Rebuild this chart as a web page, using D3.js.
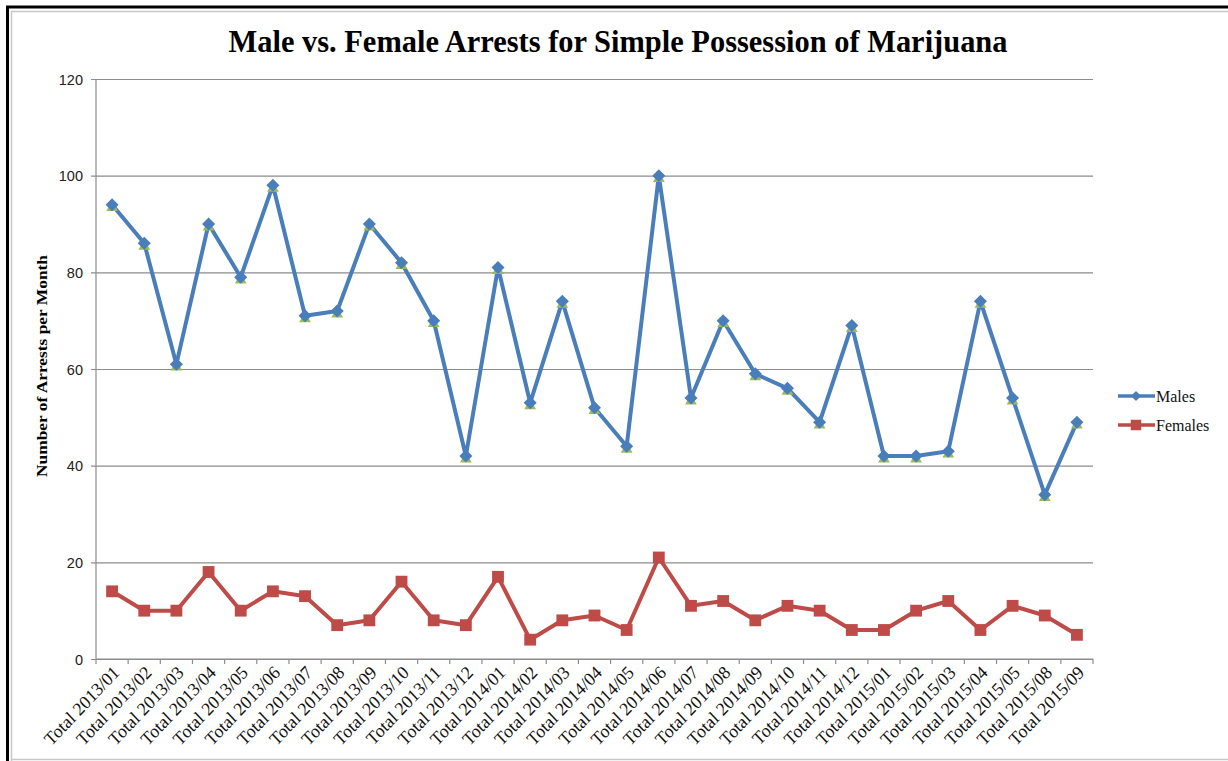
<!DOCTYPE html>
<html><head><meta charset="utf-8">
<script src="https://cdn.jsdelivr.net/npm/d3@7"></script>
<style>
html,body{margin:0;padding:0;background:#fff;}
svg{display:block;}
</style></head>
<body>
<svg id="chart" width="1228" height="761"></svg>
<script>
const categories = ["Total 2013/01","Total 2013/02","Total 2013/03","Total 2013/04","Total 2013/05","Total 2013/06","Total 2013/07","Total 2013/08","Total 2013/09","Total 2013/10","Total 2013/11","Total 2013/12","Total 2014/01","Total 2014/02","Total 2014/03","Total 2014/04","Total 2014/05","Total 2014/06","Total 2014/07","Total 2014/08","Total 2014/09","Total 2014/10","Total 2014/11","Total 2014/12","Total 2015/01","Total 2015/02","Total 2015/03","Total 2015/04","Total 2015/05","Total 2015/08","Total 2015/09"];
const males = [94,86,61,90,79,98,71,72,90,82,70,42,81,53,74,52,44,100,54,70,59,56,49,69,42,42,43,74,54,34,49];
const females = [14,10,10,18,10,14,13,7,8,16,8,7,17,4,8,9,6,21,11,12,8,11,10,6,6,10,12,6,11,9,5];
const yTicks = [0,20,40,60,80,100,120];
const seriesNames = ["Males","Females"];
const titleText = "Male vs. Female Arrests for Simple Possession of Marijuana";
const yTitle = "Number of Arrests per Month";

const svg = d3.select("#chart");
const L = 96, R = 1093, T = 79, B = 659;
const x = d3.scaleBand().domain(categories).range([L, R]).paddingInner(0).paddingOuter(0);
const y = d3.scaleLinear().domain([0, 120]).range([B, T]);
const cx = d => x(d) + x.bandwidth() / 2;

const blue = "#4A7EBB", red = "#BE4B48", green = "#9BBB59", grid = "#8C8C8C";

// frame
svg.append("path").attr("d", "M7.5,761 L7.5,7 L1228,7").attr("fill", "none").attr("stroke", "#000").attr("stroke-width", 3);
svg.append("path").attr("d", "M11.5,761 L11.5,11.5 L1228,11.5").attr("fill","none").attr("stroke","#c8c8c8").attr("stroke-width",1.5);
svg.append("line").attr("x1",11).attr("x2",1228).attr("y1",759.5).attr("y2",759.5).attr("stroke","#c8c8c8").attr("stroke-width",1.5);

// title
svg.append("text").attr("x", 618).attr("y", 52).attr("text-anchor", "middle")
  .attr("font-family", "'Liberation Serif','Times New Roman',serif").attr("font-weight", "bold")
  .attr("font-size", 31).attr("textLength", 779).attr("lengthAdjust", "spacingAndGlyphs")
  .attr("fill", "#000").text(titleText);

// y axis with gridlines
const yAxis = d3.axisLeft(y).tickValues(yTicks).tickSize(-(R - L)).tickPadding(12).tickFormat(d3.format("d"));
const gy = svg.append("g").attr("transform", `translate(${L},0)`).call(yAxis);
gy.select(".domain").remove();
gy.selectAll(".tick line").attr("stroke", grid).attr("stroke-width", 1.2).attr("x1", -5);
gy.selectAll(".tick text").attr("font-family", "'Liberation Sans',Arial,sans-serif").attr("font-size", 14.5).attr("fill", "#222").attr("dy","0.35em").attr("x",-13);
svg.append("line").attr("x1", L).attr("x2", L).attr("y1", T).attr("y2", B).attr("stroke", grid).attr("stroke-width", 1.2);

// x axis
const gx = svg.append("g").attr("transform", `translate(0,${B})`);
gx.append("line").attr("x1", L).attr("x2", R).attr("y1", 0).attr("y2", 0).attr("stroke", grid).attr("stroke-width", 1.2);
const edges = categories.map(c => x(c)).concat([R]);
gx.selectAll("line.tk").data(edges).enter().append("line").attr("class","tk")
  .attr("x1", d => d).attr("x2", d => d).attr("y1", 0).attr("y2", 5).attr("stroke", grid).attr("stroke-width", 1.2);
gx.selectAll("text.lbl").data(categories).enter().append("text").attr("class","lbl")
  .attr("transform", d => `translate(${cx(d) + 4},10) scale(0.95,1) rotate(-45)`)
  .attr("text-anchor", "end").attr("font-family", "'Liberation Serif','Times New Roman',serif")
  .attr("font-size", 18.5).attr("fill", "#111").attr("dy","0.35em").text(d => d);

// y title
svg.append("text").attr("transform", "translate(47,366) rotate(-90)").attr("text-anchor", "middle")
  .attr("font-family", "'Liberation Serif','Times New Roman',serif").attr("font-weight", "bold")
  .attr("font-size", 14).attr("textLength", 222).attr("lengthAdjust","spacingAndGlyphs").text(yTitle);

// lines
const lineGen = vals => d3.line().x((d, i) => cx(categories[i])).y(d => y(d))(vals);
svg.append("path").attr("d", lineGen(males)).attr("fill", "none").attr("stroke", blue).attr("stroke-width", 4).attr("stroke-linejoin", "round");
svg.append("path").attr("d", lineGen(females)).attr("fill", "none").attr("stroke", red).attr("stroke-width", 4).attr("stroke-linejoin", "round");

// markers
const tri = d3.symbol().type(d3.symbolTriangle).size(60);
const dia = d3.symbol().type(d3.symbolSquare).size(85);
svg.append("g").selectAll("path").data(males).enter().append("path")
  .attr("d", tri()).attr("fill", green).attr("transform", (d, i) => `translate(${cx(categories[i])},${y(d) + 3})`);
svg.append("g").selectAll("path").data(males).enter().append("path")
  .attr("d", dia()).attr("fill", blue).attr("transform", (d, i) => `translate(${cx(categories[i])},${y(d)}) rotate(45)`);
const sq = d3.symbol().type(d3.symbolSquare).size(140);
svg.append("g").selectAll("path").data(females).enter().append("path")
  .attr("d", sq()).attr("fill", red).attr("transform", (d, i) => `translate(${cx(categories[i])},${y(d)})`);

// legend
const leg = svg.append("g");
const legY = [396, 425];
const legCol = [blue, red];
seriesNames.forEach((name, i) => {
  leg.append("line").attr("x1", 1118).attr("x2", 1155).attr("y1", legY[i]).attr("y2", legY[i]).attr("stroke", legCol[i]).attr("stroke-width", 3.5);
  if (i === 0) {
    leg.append("path").attr("d", d3.symbol().type(d3.symbolSquare).size(50)()).attr("fill", blue).attr("transform", `translate(1136,${legY[i]}) rotate(45)`);
  } else {
    leg.append("path").attr("d", d3.symbol().type(d3.symbolSquare).size(110)()).attr("fill", red).attr("transform", `translate(1136,${legY[i]})`);
  }
  leg.append("text").attr("x", 1156).attr("y", legY[i]).attr("dy", "0.35em")
    .attr("font-family", "'Liberation Serif','Times New Roman',serif").attr("font-size", 16).attr("fill", "#111").text(name);
});
</script>
</body></html>
